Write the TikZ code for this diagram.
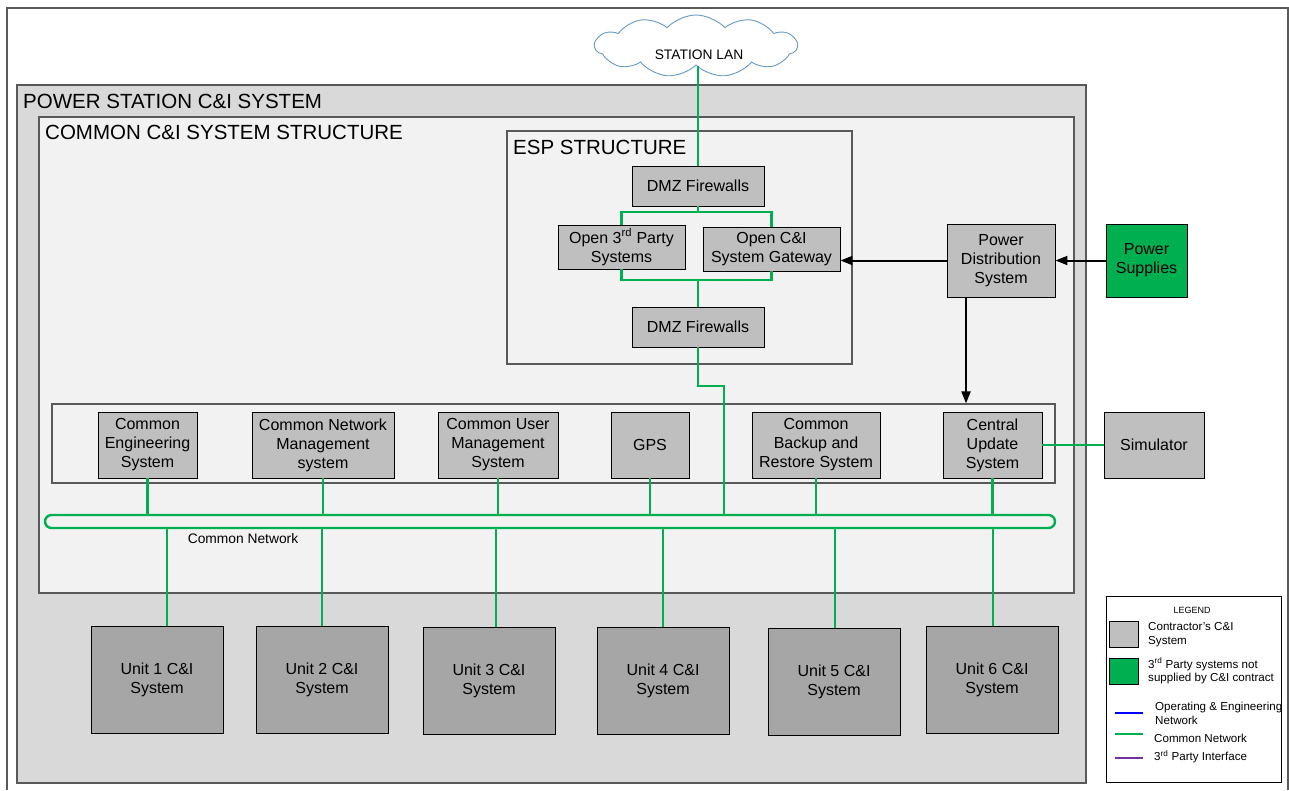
\documentclass[tikz,border=0pt]{standalone}
\usepackage{fontspec}
\setmainfont{Liberation Sans}
\usepackage{tikz}
\usetikzlibrary{shapes.symbols,arrows.meta}
\definecolor{netgreen}{HTML}{00B050}
\definecolor{boxgray}{HTML}{BFBFBF}
\definecolor{unitgray}{HTML}{A6A6A6}
\definecolor{stationgray}{HTML}{D9D9D9}
\definecolor{panelgray}{HTML}{F2F2F2}
\definecolor{edgegray}{HTML}{595959}
\definecolor{cloudblue}{HTML}{6A9BC3}
\definecolor{legendblue}{HTML}{0000FF}
\definecolor{legendpurple}{HTML}{7030A0}
\newcommand{\boxtxt}{\fontsize{16}{19}\selectfont}
\newcommand{\titletxt}{\fontsize{20.5}{24}\selectfont}
\newcommand{\lantxt}{\fontsize{13.8}{16}\selectfont}
\newcommand{\legtxt}{\fontsize{11.6}{13.8}\selectfont}

\begin{document}
\begin{tikzpicture}[
		x=1pt, y=-1pt,
		>={Triangle[length=12pt,width=9pt]},
		sysbox/.style={draw=black, line width=0.9pt, fill=boxgray, inner sep=0pt, align=center, font=\boxtxt},
		unitbox/.style={sysbox, fill=unitgray, minimum width=132, minimum height=107},
		rowbox/.style={sysbox, minimum height=66},
		panel/.style={draw=edgegray, line width=1.2pt, fill=panelgray},
		net/.style={netgreen, line width=2.4pt},
		feed/.style={->, line width=2pt},
		title/.style={anchor=base west, inner sep=0pt, font=\titletxt},
		keytext/.style={anchor=west, inner sep=0pt, align=left, font=\legtxt}
	]
	\fill[white] (0,0) rectangle (1289,790);
	\useasboundingbox (0,0) rectangle (1289,790);
	\draw[edgegray, line width=1.2pt] (7,790) -- (7,8) -- (1288,8) -- (1288,790);

	\draw[panel, fill=stationgray] (17,85) rectangle (1086,783);
	\node[title] (pstitle) at (23,108) {POWER STATION C\&I SYSTEM};
	\draw[panel] (39,117) rectangle (1074,593);
	\node[title] (cstitle) at (45,139) {COMMON C\&I SYSTEM STRUCTURE};
	\draw[panel] (507,131) rectangle (852,364);
	\node[title] (esptitle) at (513,154) {ESP STRUCTURE};
	\node[panel, inner sep=0pt, minimum width=1003, minimum height=79] (row) at (553.5,443.5) {};

	\node[cloud, cloud puffs=11, cloud puff arc=95, aspect=3.4, draw=cloudblue, line width=0.9pt, fill=white,
		inner sep=0pt, minimum width=202, minimum height=62] (lan) at (696,46) {};
	\node[font=\lantxt] (lantext) at (699,55) {STATION LAN};

	\node[sysbox, minimum width=132, minimum height=40] (dmztop) at (698,186) {DMZ Firewalls};
	\node[sysbox, minimum width=127, minimum height=44] (open3) at (621.5,247) {Open 3\textsuperscript{rd} Party\\Systems};
	\node[sysbox, minimum width=137, minimum height=44] (gateway) at (771.5,249) {Open C\&I\\System Gateway};
	\node[sysbox, minimum width=132, minimum height=40] (dmzbot) at (698,327) {DMZ Firewalls};
	\node[sysbox, minimum width=108, minimum height=73] (pds) at (1001,260.5) {Power\\Distribution\\System};
	\node[sysbox, fill=netgreen, minimum width=81, minimum height=73] (psup) at (1146.5,260.5) {Power\\Supplies};

	\node[rowbox, minimum width=99] (ces) at (147.5,445) {Common\\Engineering\\System};
	\node[rowbox, minimum width=142] (cnms) at (323,445) {Common Network\\Management\\system};
	\node[rowbox, minimum width=120] (cums) at (498,445) {Common User\\Management\\System};
	\node[rowbox, minimum width=78] (gps) at (650,445) {GPS};
	\node[rowbox, minimum width=128] (cbrs) at (816,445) {Common\\Backup and\\Restore System};
	\node[rowbox, minimum width=99] (cus) at (992.5,445) {Central\\Update\\System};
	\node[rowbox, minimum width=100] (sim) at (1154,445) {Simulator};

	\node[draw=netgreen, line width=2.4pt, rounded corners=6.5pt, inner sep=0pt,
		minimum width=1010, minimum height=13] (bus) at (550,521.5) {};
	\node[font=\lantxt] (buslabel) at (243,539) {Common Network};

	\node[unitbox] (u1) at (157,679.5) {Unit 1 C\&I\\System};
	\node[unitbox] (u2) at (322,679.5) {Unit 2 C\&I\\System};
	\node[unitbox] (u3) at (489,680.5) {Unit 3 C\&I\\System};
	\node[unitbox] (u4) at (663,680.5) {Unit 4 C\&I\\System};
	\node[unitbox] (u5) at (834,681.5) {Unit 5 C\&I\\System};
	\node[unitbox] (u6) at (992,679.5) {Unit 6 C\&I\\System};

	\coordinate (jtop) at (698,212);
	\coordinate (jbot) at (698,280);
	\coordinate (jdrop) at (698,386);
	\draw[net] (dmztop |- lan.south) -- (dmztop);
	\draw[net] (dmztop) -- (jtop);
	\draw[net] (open3.north) |- (jtop) -| (gateway.north);
	\draw[net] (open3.south) |- (jbot) -| (gateway.south);
	\draw[net] (jbot) -- (dmzbot);
	\draw[net] (dmzbot) -- (jdrop) -| ([xshift=174pt]bus.north);
	\foreach \b in {ces,cnms,cums,gps,cbrs,cus}
		\draw[net] (\b) -- (\b |- bus.north);
	\draw[net] (cus) -- (sim);
	\foreach \u/\dx in {u1/10,u2/0,u3/7,u4/0,u5/1,u6/1}
		\draw[net] ([xshift=\dx pt]\u.north) -- ([xshift=\dx pt]\u.north |- bus.south);

	\draw[feed] (psup) -- (pds);
	\draw[feed] (pds.west) -- (pds.west -| gateway.east);
	\draw[feed] ([xshift=-35pt]pds.south) -- ([xshift=-35pt]pds.south |- row.north);

	\node[draw=black, line width=1pt, fill=white, inner sep=0pt,
		minimum width=175, minimum height=186] (legend) at (1193.5,689) {};
	\node[font=\fontsize{9}{11}\selectfont] (legtitle) at (1192,610) {LEGEND};
	\node[sysbox, minimum width=29, minimum height=26] (keygray) at (1123.5,634) {};
	\node[keytext] (keygraytext) at (1148,635) {Contractor's C\&I\\System};
	\node[sysbox, fill=netgreen, minimum width=29, minimum height=26] (keygreen) at (1123.5,671) {};
	\node[keytext] (keygreentext) at (1148,671) {3\textsuperscript{rd} Party systems not\\supplied by C\&I contract};
	\draw[legendblue, line width=2.4pt] (1115,713) -- (1143,713);
	\node[keytext] (keyblue) at (1155,713) {Operating \& Engineering\\Network};
	\draw[netgreen, line width=2.4pt] (1115,734) -- (1143,734);
	\node[keytext] (keynet) at (1154,738) {Common Network};
	\draw[legendpurple, line width=2.4pt] (1115,758) -- (1143,758);
	\node[keytext] (keypurple) at (1154,757) {3\textsuperscript{rd} Party Interface};
\end{tikzpicture}
\end{document}
